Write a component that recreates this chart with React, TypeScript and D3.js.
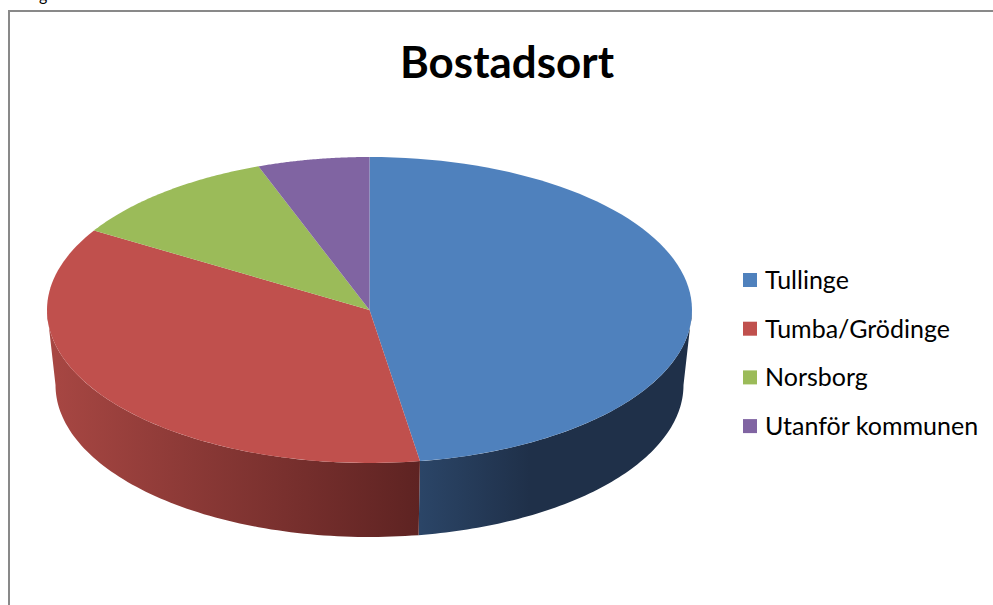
import React from "react";
import * as d3 from "d3";

const categories = ["Tullinge", "Tumba/Grödinge", "Norsborg", "Utanför kommunen"];
const values = [47.5, 36.2, 10.7, 5.6];
const topColors = ["#4F81BD", "#C0504D", "#9BBB59", "#8064A2"];
const sideColorsLight = ["#2B4567", "#A84743", "#7E9A45", "#654F82"];
const sideColorsDark = ["#1F3049", "#5E2322", "#4F6229", "#3F3151"];
const title = "Bostadsort";

const W = 993;
const H = 605;

export default function App() {
  const top = { cx: 369.5, cy: 310, rx: 322.5, ry: 153 };
  const bot = { cx: 369.5, cy: 385, rx: 314, ry: 152 };

  const pie = d3.pie<number>().sort(null).value((d) => d);
  const arcs = pie(values);

  const pt = (e: typeof top, a: number): [number, number] => [
    e.cx + e.rx * Math.sin(a),
    e.cy - e.ry * Math.cos(a),
  ];
  const sample = (a0: number, a1: number, n = 80) =>
    d3.range(n + 1).map((i) => a0 + ((a1 - a0) * i) / n);

  const line = d3.line<[number, number]>();

  const topPath = (a0: number, a1: number) => {
    const pts: [number, number][] = [[top.cx, top.cy], ...sample(a0, a1).map((a) => pt(top, a))];
    return line(pts) + "Z";
  };

  const sidePath = (a0: number, a1: number) => {
    const s = Math.max(a0, Math.PI / 2);
    const e = Math.min(a1, (3 * Math.PI) / 2);
    if (e <= s) return null;
    const up = sample(s, e).map((a) => pt(top, a));
    const down = sample(e, s).map((a) => pt(bot, a));
    return line([...up, ...down]) + "Z";
  };

  const legendX = 743;
  const legendY0 = 280;
  const legendStep = 48.7;

  return (
    <svg
      width={W}
      height={H}
      style={{ position: "absolute", left: 0, top: 0, background: "#fff" }}
      fontFamily="Lato, 'Open Sans', sans-serif"
    >
      <defs>
        {arcs.map((d, i) => {
          const s = Math.max(d.startAngle, Math.PI / 2);
          const e = Math.min(d.endAngle, (3 * Math.PI) / 2);
          const x0 = pt(top, s)[0];
          const x1 = pt(top, e)[0];
          const xl = Math.min(x0, x1);
          const xr = Math.max(x0, x1);
          return (
            <linearGradient
              key={i}
              id={`side${i}`}
              gradientUnits="userSpaceOnUse"
              x1={xl}
              x2={i === 0 ? xl + 110 : xr}
              y1={0}
              y2={0}
            >
              <stop offset="0" stopColor={sideColorsLight[i]} />
              <stop offset="1" stopColor={sideColorsDark[i]} />
            </linearGradient>
          );
        })}
      </defs>

      <text x={39} y={1} fontSize={16} fill="#000">g</text>

      <path d="M8,11 H993 M9,11 V605" stroke="#898989" strokeWidth={2} fill="none" />

      <text
        x={507}
        y={78}
        textAnchor="middle"
        fontSize={44}
        fontWeight="bold"
        fill="#000"
        textLength={214}
        lengthAdjust="spacingAndGlyphs"
      >
        {title}
      </text>

      <g>
        {arcs.map((d, i) => {
          const p = sidePath(d.startAngle, d.endAngle);
          return p ? <path key={`s${i}`} d={p} fill={`url(#side${i})`} /> : null;
        })}
        {arcs.map((d, i) => (
          <path key={`t${i}`} d={topPath(d.startAngle, d.endAngle)} fill={topColors[i]} />
        ))}
      </g>

      <g>
        {categories.map((c, i) => {
          const cy = legendY0 + i * legendStep;
          return (
            <g key={c}>
              <rect x={legendX} y={cy - 7} width={14} height={14} fill={topColors[i]} />
              <text x={765} y={cy + 9} fontSize={25} fill="#000">
                {c}
              </text>
            </g>
          );
        })}
      </g>
    </svg>
  );
}
